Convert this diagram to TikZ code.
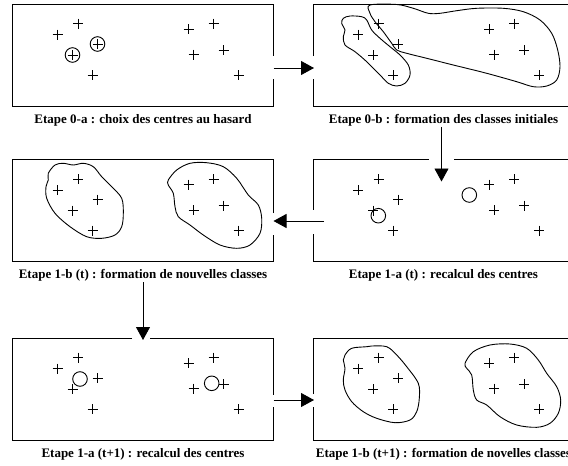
\documentclass[tikz,border=0pt]{standalone}
\usepackage{fontspec}
\setmainfont{Liberation Serif}
\usepackage{tikz}
\usetikzlibrary{calc,positioning,arrows.meta}

\begin{document}
\begin{tikzpicture}[x=1pt,y=-1pt,line width=0.9pt,
        stepbox/.style={minimum width=261pt,minimum height=102pt,inner sep=0pt,outer sep=0pt},
        steplabel/.style={inner sep=0pt,text height=9pt,text depth=3pt,
            font=\fontsize{13}{15}\selectfont\bfseries},
        centre/.style={circle,draw,minimum size=14.6pt,inner sep=0pt},
        arr/.style={-{Triangle[length=13pt,width=14pt]}}]
            \useasboundingbox (0,0) rectangle (568,466);

            \node [stepbox] (b0a) at (143, 55) {};
            \node [stepbox] (b0b) at (443.5, 55) {};
            \node [stepbox] (b1at) at (443.5, 210.5) {};
            \node [stepbox] (b1bt) at (143, 210.5) {};
            \node [stepbox] (b1an) at (143, 389) {};
            \node [stepbox] (b1bn) at (443.5, 389) {};

            \node [steplabel, below=8pt of b0a] (l0a) {Etape 0-a : choix des centres au hasard};
            \node [steplabel, below=8pt of b0b] (l0b) {Etape 0-b : formation des classes initiales};
            \node [steplabel, below=8pt of b1at] (l1at) {Etape 1-a (t) : recalcul des centres};
            \node [steplabel, below=8pt of b1bt] (l1bt) {Etape 1-b (t) : formation de nouvelles classes};
            \node [steplabel, below=8pt of b1an] (l1an) {Etape 1-a (t+1) : recalcul des centres};
            \node [steplabel, below=8pt of b1bn] (l1bn) {Etape 1-b (t+1) : formation de novelles classes};

            % frames, open where the arrows pass
            \draw (b0a.north east) -- (b0a.north west) -- (b0a.south west) -- (b0a.south east)
                -- ($(b0a.east) + (0, 24)$);
            \draw (b0a.north east) -- ($(b0a.east) + (0, 1)$);
            \draw ($(b0b.west) + (0, 1)$) -- (b0b.north west) -- (b0b.north east)
                -- (b0b.south east) -- (b0b.south west) -- ($(b0b.west) + (0, 24)$);
            \draw ($(b1at.north) + (-15, 0)$) -- (b1at.north west) -- ($(b1at.west) + (0, -0.5)$);
            \draw ($(b1at.west) + (0, 23.5)$) -- (b1at.south west) -- (b1at.south east)
                -- (b1at.north east) -- ($(b1at.north) + (10, 0)$);
            \draw ($(b1bt.east) + (0, 2.5)$) -- (b1bt.north east) -- (b1bt.north west)
                -- (b1bt.south west) -- (b1bt.south east) -- ($(b1bt.east) + (0, 24.5)$);
            \draw ($(b1an.north) + (-11, 0)$) -- (b1an.north west) -- (b1an.south west)
                -- (b1an.south east) -- ($(b1an.east) + (0, 18)$);
            \draw ($(b1an.north) + (7, 0)$) -- (b1an.north east) -- ($(b1an.east) + (0, 6)$);
            \draw ($(b1bn.west) + (0, 5)$) -- (b1bn.north west) -- (b1bn.north east)
                -- (b1bn.south east) -- (b1bn.south west) -- ($(b1bn.west) + (0, 18)$);

            % the ten points, same place in every frame
            \foreach \bx in {b0a,b0b,b1at,b1bt,b1an,b1bn} {
                \foreach \px/\py in {45/30.5, 65.5/19.5, 60/51, 85/40, 80/71,
                        176/25, 201/19.5, 181/50.5, 211/46, 226/71} {
                    \draw [line width=0.8pt] ($(\bx.north west) + (\px-5, \py)$) -- +(10, 0)
                        ($(\bx.north west) + (\px, \py-5)$) -- +(0, 10);
                }
            }

            % centres
            \node [centre] (c0a1) at ($(b0a.north west) + (60, 51)$) {};
            \node [centre] (c0a2) at ($(b0a.north west) + (85, 40)$) {};
            \node [centre] (c1at1) at ($(b1at.north west) + (65.3, 56.2)$) {};
            \node [centre] (c1at2) at ($(b1at.north west) + (156.3, 35.5)$) {};
            \node [centre] (c1an1) at ($(b1an.north west) + (67.5, 41)$) {};
            \node [centre] (c1an2) at ($(b1an.north west) + (199.2, 45.3)$) {};

            % classes
            \draw plot [smooth cycle, tension=0.55] coordinates {(343.3,18.3) (350,16) (361.7,16.7)
                (366.7,20) (371.7,30) (380,38.3) (390,46.7) (400,55) (408.3,65) (410,75) (405,83.3)
                (396.7,86) (388.3,83.3) (380,75) (366.7,61.7) (355,51.7) (345,45) (343.3,36.7)
                (345,30) (341.7,23.3)};
            \draw plot [smooth cycle, tension=0.55] coordinates {(370,5) (396.7,4.5) (413.3,8.3)
                (428.3,13.3) (440,13.3) (456.7,10.7) (476.7,8.3) (503.3,8.3) (523.3,11.7) (540,20)
                (551.7,33.3) (557.7,50) (560,66.7) (556.7,80) (546.7,86) (533.3,86.7) (516.7,81.7)
                (486.7,73.3) (453.3,65) (426.7,58.3) (406.7,53.3) (396.7,50) (391.7,43.3)
                (383.3,31.7) (375,21.7) (370,13.3)};
            \draw plot [smooth cycle, tension=0.55] coordinates {(48.3,173.3) (55,165) (63.3,163.3)
                (73.3,165) (83.3,163.3) (93.3,166.7) (101.7,176.7) (111.7,186.7) (121.7,198.3)
                (123.3,213.3) (121.7,226.7) (115,235) (101.7,238.3) (86.7,236.7) (70,226.7)
                (55,213.3) (46.7,198.3) (46,186.7) (48.3,180)};
            \draw plot [smooth cycle, tension=0.55] coordinates {(168.3,180) (176.7,170) (190,163.3)
                (206.7,162.7) (223.3,166.7) (236.7,178.3) (248.3,195) (258.3,205) (261.7,218.3)
                (260,233.3) (250,245) (236.7,248.3) (220,245) (203.3,235) (190,225) (178.3,216.7)
                (175,206.7) (173.3,193.3) (168.3,185)};
            \draw plot [smooth cycle, tension=0.55] coordinates {(345,355) (351.7,348.3) (366.7,346.7)
                (371.7,346) (386.7,346.7) (396.7,355) (406.7,366.7) (418.3,383.3) (419.3,398.3)
                (416.7,411.7) (410,420) (395,422.7) (376.7,418.3) (363.3,411.7) (351.7,401.7)
                (345,390) (343.3,380) (345,368.3) (343.3,360)};
            \draw plot [smooth cycle, tension=0.55] coordinates {(465,363.3) (473.3,351.7) (490,345)
                (510,344) (526.7,348.3) (538.3,360) (546.7,373.3) (556.7,386.7) (560.7,400)
                (558.3,413.3) (550,423.3) (536.7,427.3) (516.7,425) (500,416.7) (486.7,405)
                (476.7,400) (473.3,390) (471.7,375) (466.7,368.3)};

            % arrows between the steps
            \coordinate (a1s) at ($(b0a.east) + (0, 13)$);
            \coordinate (a1e) at ($(b0b.west) + (1, 13)$);
            \coordinate (a2e) at ($(b1at.north) + (-2, 22)$);
            \coordinate (a3s) at ($(b1at.west) + (11, 10.5)$);
            \coordinate (a3e) at ($(b1bt.east) + (0, 10.5)$);
            \coordinate (a4e) at ($(b1an.north) + (0, 2)$);
            \coordinate (a5s) at ($(b1an.east) + (0, 11)$);
            \coordinate (a5e) at ($(b1bn.west) + (1, 11)$);
            \draw [arr] (a1s) -- (a1e);
            \draw [arr] (l0b.south -| a2e) -- (a2e);
            \draw [arr] (a3s) -- (a3e);
            \draw [arr] (l1bt.south -| a4e) -- (a4e);
            \draw [arr] (a5s) -- (a5e);
        \end{tikzpicture}
\end{document}
